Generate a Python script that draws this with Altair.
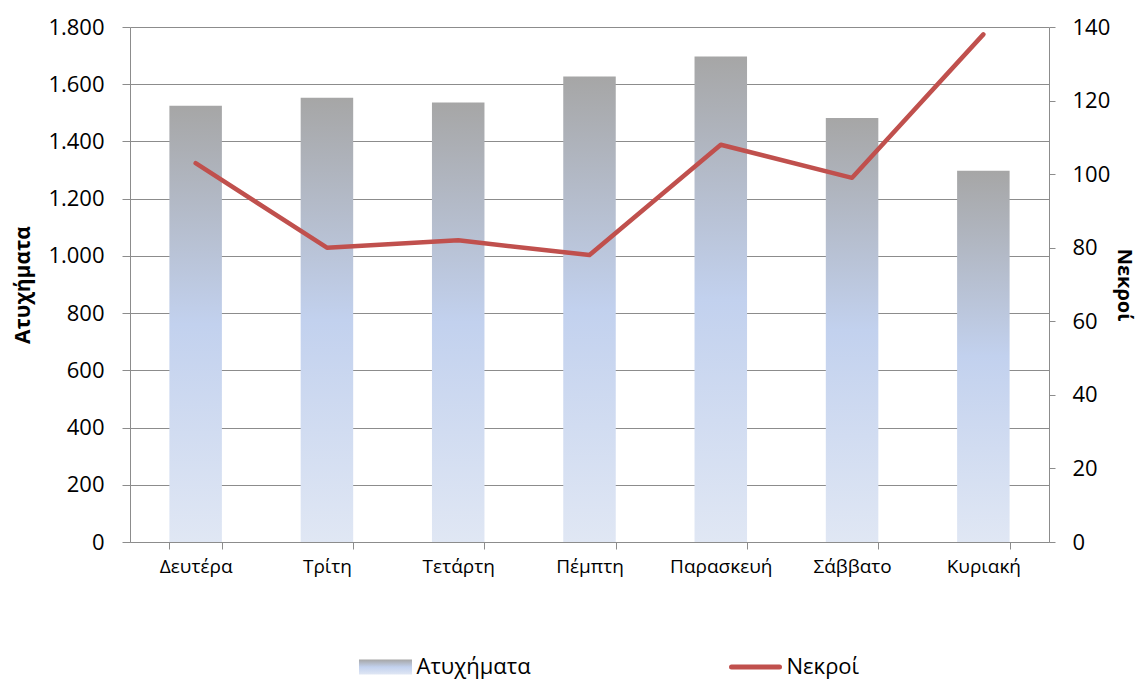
import altair as alt
import pandas as pd

days = ["Δευτέρα", "Τρίτη", "Τετάρτη", "Πέμπτη", "Παρασκευή", "Σάββατο", "Κυριακή"]
accidents = [1525, 1553, 1536, 1627, 1697, 1482, 1298]
deaths = [103, 80, 82, 78, 108, 99, 138]
legend_names = ["Ατυχήματα", "Νεκροί"]
left_ticks = [0, 200, 400, 600, 800, 1000, 1200, 1400, 1600, 1800]
right_ticks = [0, 20, 40, 60, 80, 100, 120, 140]

df = pd.DataFrame({"day": days, "accidents": accidents, "deaths": deaths})
ldf = pd.DataFrame({"name": legend_names})

FONT = "Open Sans"
GRID = "#8C8C8C"
RED = "#C0504D"

grad = alt.LinearGradient(
    gradient="linear", x1=0, y1=0, x2=0, y2=1,
    stops=[
        alt.GradientStop(color="#A6A6A6", offset=0),
        alt.GradientStop(color="#C2D1EE", offset=0.5),
        alt.GradientStop(color="#E0E7F4", offset=1),
    ],
)

x = alt.X(
    "day:N", sort=days, title=None,
    scale=alt.Scale(paddingInner=0.6, paddingOuter=0.3),
    axis=alt.Axis(tickBand="extent", labelAngle=0, labelFontSize=19, labelPadding=8,
                  tickSize=7, domainColor=GRID, tickColor=GRID, labelColor="black",
                  grid=False, labelFont=FONT),
)

bars = alt.Chart(df).mark_bar(fill=grad).encode(
    x=x,
    y=alt.Y(
        "accidents:Q", title="Ατυχήματα",
        scale=alt.Scale(domain=[0, 1800], nice=False),
        axis=alt.Axis(values=left_ticks,
                      labelExpr="replace(format(datum.value, ','), ',', '.')",
                      grid=True, gridColor=GRID, gridWidth=1,
                      domainColor=GRID, tickColor=GRID, tickSize=8,
                      labelFontSize=22, labelPadding=18, labelColor="black", labelFont=FONT,
                      titleFontSize=21, titleFontWeight="bold", titlePadding=14,
                      titleColor="black", titleFont=FONT),
    ),
)

line = alt.Chart(df).mark_line(color=RED, strokeWidth=4.5, strokeCap="round",
                               strokeJoin="round").encode(
    x=x,
    y=alt.Y(
        "deaths:Q", title="Νεκροί",
        scale=alt.Scale(domain=[0, 140], nice=False),
        axis=alt.Axis(orient="right", values=right_ticks, grid=False,
                      domainColor=GRID, tickColor=GRID, tickSize=6,
                      labelFontSize=22, labelPadding=17, labelColor="black", labelFont=FONT,
                      titleFontSize=20, titleFontWeight="bold", titlePadding=4,
                      titleColor="black", titleFont=FONT),
    ),
)

main = alt.layer(bars, line).resolve_scale(y="independent").properties(width=919, height=515)

lx = alt.X("name:N", sort=legend_names, axis=None,
           scale=alt.Scale(type="point", padding=0.6905))

sym_bar = alt.Chart(ldf).transform_filter(
    alt.datum.name == legend_names[0]
).mark_point(shape="M-1,-0.28H1V0.28H-1Z", filled=True, fill=grad, size=2809,
             opacity=1, strokeWidth=0).encode(x=lx)

sym_line = alt.Chart(ldf).transform_filter(
    alt.datum.name == legend_names[1]
).mark_point(shape="M-1,0H1", filled=False, stroke=RED, strokeWidth=5,
             strokeCap="round", size=2304, opacity=1).encode(x=lx)

texts = alt.Chart(ldf).mark_text(align="left", baseline="middle", dx=31, fontSize=22,
                                 font=FONT, color="black").encode(x=lx, text="name:N")

legend = alt.layer(sym_bar, sym_line, texts).properties(width=881, height=30)

chart = alt.vconcat(main, legend, spacing=76).properties(
    padding={"left": 4, "right": 5, "top": 8, "bottom": 0}
).configure(font=FONT).configure_view(strokeWidth=0)

chart.save("out.html", embed_options={"renderer": "svg", "actions": False})
